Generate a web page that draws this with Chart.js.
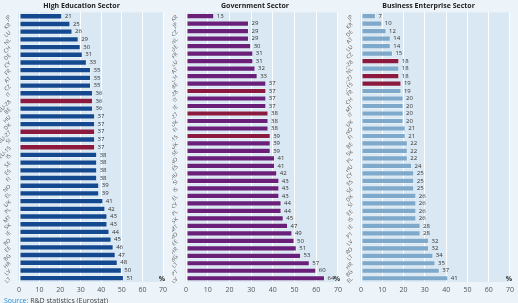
<!DOCTYPE html>
<html>
<head>
<meta charset="utf-8">
<script src="https://cdn.jsdelivr.net/npm/chart.js@4"></script>
<style>
  body { margin: 0; background: #ecf4fa; font-family: "Open Sans", sans-serif; }
  #wrap { position: relative; width: 518px; height: 303px; overflow: hidden; }
  .panel { position: absolute; top: 0; height: 303px; }
  #source { position: absolute; left: 4px; top: 296px; font-size: 7px; color: #444; }
  #source b { color: #2b8fd1; font-weight: normal; }
</style>
</head>
<body>
<div id="wrap">
  <div class="panel" style="left:0;width:172px"><canvas id="hesChart" width="172" height="303"></canvas></div>
  <div class="panel" style="left:172px;width:174px"><canvas id="govChart" width="174" height="303"></canvas></div>
  <div class="panel" style="left:346px;width:172px"><canvas id="besChart" width="172" height="303"></canvas></div>
  <div id="source"><b>Source:</b> R&amp;D statistics (Eurostat)</div>
</div>
<script>
// country codes could not be read from the picture, so these are best guesses
const hesLabels = ['JP','KR','LU','NL','CH','DE','CY','FR','AT','CZ','IT','EU-28','BE','HU','DK','EU-27','SI','EU-15',
    'IS','SE','ES','FI','NO','EL','UK','PL','MT','SK','IE','RO','EE','BG','HR','LV','LT'];
const hesValues = [21,25,26,29,30,31,33,35,35,35,36,36,36,37,37,37,37,37,38,38,38,38,39,39,41,42,43,43,44,45,46,47,48,50,51];

const govLabels = ['KR','JP','CZ','NL','DE','FR','LU','AT','CH','BE','EU-28','IT','IE','EU-27','DK','FI','EU-15','UK',
    'SE','NO','ES','HU','SI','IS','EL','CY','PL','SK','MT','RO','EE','HR','BG','LT','PT','LV'];
const govValues = [13,29,29,29,30,31,31,32,33,37,37,37,37,38,38,38,39,39,39,41,41,42,43,43,43,44,44,45,47,49,50,51,53,57,60,64];

const besLabels = ['JP','KR','DE','AT','LU','CZ','EU-28','NL','EU-27','EU-15','FR','CH','MT','IT','UK','NO','FI','BE',
    'SK','PL','HU','CY','ES','SE','DK','SI','EE','IS','IE','PT','LV','RO','LT','HR','BG','EL'];
const besValues = [7,10,12,14,14,15,18,18,18,19,19,20,20,20,20,21,21,22,22,22,24,25,25,25,26,26,26,26,28,28,32,32,34,35,37,41];

const xTicks = [0,10,20,30,40,50,60,70];

const euColor = '#8b1a3e';

const plotBg = {
    id: 'plotBg',
    beforeDraw(chart) {
        const a = chart.chartArea;
        const ctx = chart.ctx;
        ctx.save();
        ctx.fillStyle = '#d9e8f3';
        ctx.fillRect(a.left - 1, a.top, a.right - a.left + 1, a.bottom - a.top);
        ctx.restore();
    }
};

const valueLabels = {
    id: 'valueLabels',
    afterDatasetsDraw(chart) {
        const ctx = chart.ctx;
        const data = chart.data.datasets[0].data;
        ctx.save();
        ctx.font = '6px "Open Sans", sans-serif';
        ctx.fillStyle = '#333';
        ctx.textBaseline = 'middle';
        chart.getDatasetMeta(0).data.forEach(function(bar, i) {
            ctx.fillText(data[i], bar.x + 2.5, bar.y);
        });
        // percent sign at the end of the axis
        ctx.font = 'bold 7px "Open Sans", sans-serif';
        ctx.textAlign = 'center';
        ctx.fillText('%', chart.scales.x.getPixelForValue(70) - 1, chart.chartArea.bottom - 3);
        ctx.restore();
    }
};

function makeChart(id, title, labels, values, color, leftWidth, rightPad) {
    const colors = labels.map(l => l.startsWith('EU') ? euColor : color);
    new Chart(document.getElementById(id), {
        type: 'bar',
        data: {
            labels: labels,
            datasets: [{
                data: values,
                backgroundColor: colors,
                borderColor: 'rgba(255,255,255,0.3)',
                borderWidth: 1,
                borderSkipped: false,
                categoryPercentage: 0.86,
                barPercentage: 0.96
            }]
        },
        options: {
            indexAxis: 'y',
            responsive: false,
            animation: false,
            layout: { padding: { left: 0, right: rightPad, top: 0, bottom: 7 } },
            plugins: {
                legend: { display: false },
                tooltip: { enabled: false },
                title: {
                    display: true,
                    text: title,
                    color: '#222',
                    font: { family: 'Open Sans', size: 7, weight: 'bold' },
                    padding: { top: 2, bottom: 2 }
                }
            },
            scales: {
                x: {
                    min: 0,
                    max: 70,
                    afterBuildTicks: function(scale) { scale.ticks = xTicks.map(v => ({ value: v })); },
                    afterFit: function(scale) { scale.height = 14; },
                    grid: { color: '#ffffff', lineWidth: 1, drawTicks: false },
                    border: { display: false },
                    ticks: { color: '#555', padding: 4, font: { family: 'Open Sans', size: 7 } }
                },
                y: {
                    afterFit: function(scale) { scale.width = leftWidth; },
                    grid: { display: false },
                    border: { display: false },
                    ticks: {
                        color: '#555',
                        padding: 1,
                        autoSkip: false,
                        minRotation: 45,
                        maxRotation: 45,
                        font: { family: 'Open Sans', size: 5.5 }
                    }
                }
            }
        },
        plugins: [plotBg, valueLabels]
    });
}

makeChart('hesChart', 'High Education Sector', hesLabels, hesValues, '#14498f', 19, 9);
makeChart('govChart', 'Government Sector', govLabels, govValues, '#6a1f78', 14, 8);
makeChart('besChart', 'Business Enterprise Sector', besLabels, besValues, '#7fa9cb', 15, 7);
</script>
</body>
</html>
